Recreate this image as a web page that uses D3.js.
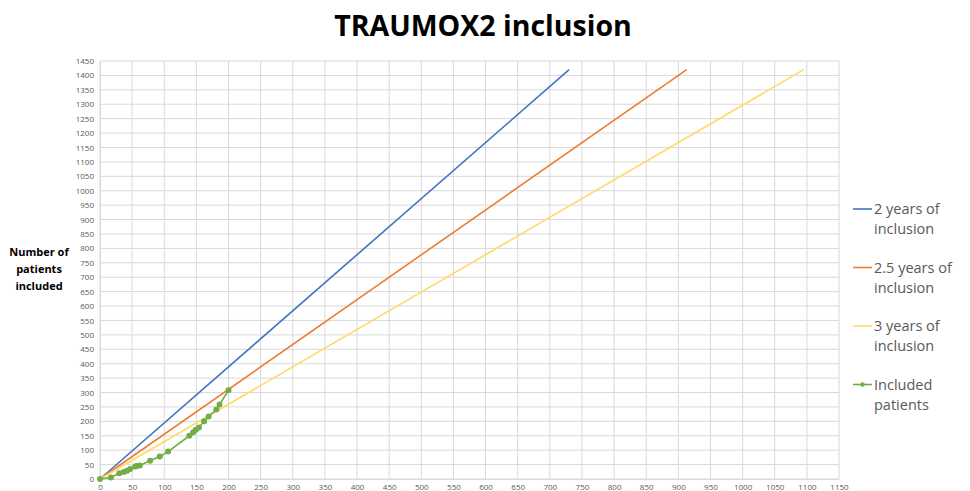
<!DOCTYPE html>
<html><head><meta charset="utf-8">
<script src="https://cdn.jsdelivr.net/npm/d3@7"></script>
<style>body{margin:0;background:#fff}svg{display:block}</style>
</head><body><svg id="c" width="970" height="491"></svg>
<script>
const title = "TRAUMOX2 inclusion";
const yLabel = ["Number of", "patients", "included"];
const xTicks = d3.range(0, 1151, 50);
const yTicks = d3.range(0, 1451, 50);
const targetPatients = 1420;
const planSeries = [
  {name: ["2 years of", "inclusion"], days: 730, color: "#4472C4"},
  {name: ["2.5 years of", "inclusion"], days: 913, color: "#ED7D31"},
  {name: ["3 years of", "inclusion"], days: 1095, color: "#FFD966"}
];
const includedName = ["Included", "patients"];
const includedColor = "#70AD47";
const includedDays = [0, 17, 30, 37, 42, 47, 55, 57, 62, 78, 93, 106, 139, 145, 149, 154, 162, 169, 181, 186, 200];
const includedCount = [0, 5, 20, 24, 29, 35, 43, 45, 47, 63, 78, 95, 150, 162, 171, 179, 200, 217, 241, 258, 308];

const svg = d3.select("#c");
const x = d3.scaleLinear().domain([0, 1150]).range([100, 839]);
const y = d3.scaleLinear().domain([0, 1450]).range([479, 61]);
const font = "Open Sans, Liberation Sans, sans-serif";

svg.append("text").attr("x", 483).attr("y", 36).attr("text-anchor", "middle")
  .attr("font-family", font).attr("font-weight", "bold").attr("font-size", 28.5)
  .attr("fill", "#000").text(title);

// grid
svg.append("g").selectAll("line").data(xTicks).join("line")
  .attr("x1", d => x(d)).attr("x2", d => x(d)).attr("y1", y(0)).attr("y2", y(1450))
  .attr("stroke", "#d9d9d9").attr("stroke-width", 1);
svg.append("g").selectAll("line").data(yTicks).join("line")
  .attr("x1", x(0)).attr("x2", x(1150)).attr("y1", d => y(d)).attr("y2", d => y(d))
  .attr("stroke", "#d9d9d9").attr("stroke-width", 1);

// axes
const fmt = d3.format("d");
const xAxis = svg.append("g").attr("transform", `translate(0,${y(0)})`)
  .call(d3.axisBottom(x).tickValues(xTicks).tickFormat(fmt).tickSize(0).tickPadding(5));
const yAxis = svg.append("g").attr("transform", `translate(${x(0)},0)`)
  .call(d3.axisLeft(y).tickValues(yTicks).tickFormat(fmt).tickSize(0).tickPadding(6));
[xAxis, yAxis].forEach(g => {
  g.select(".domain").attr("stroke", "#d9d9d9");
  g.selectAll("text").attr("font-family", font).attr("font-size", 8).attr("fill", "#595959");
});

// y label
const yl = svg.append("text").attr("text-anchor", "middle").attr("font-family", font)
  .attr("font-weight", "bold").attr("font-size", 11).attr("fill", "#000");
yLabel.forEach((t, i) => yl.append("tspan").attr("x", 39).attr("y", 256 + i * 17).text(t));

// plan lines
const line = d3.line().x(d => x(d[0])).y(d => y(d[1]));
planSeries.forEach(s => {
  svg.append("path").datum([[0, 0], [s.days, targetPatients]]).attr("d", line)
    .attr("fill", "none").attr("stroke", s.color).attr("stroke-width", 1.6);
});

// included
const inc = includedDays.map((d, i) => [d, includedCount[i]]);
svg.append("path").datum(inc).attr("d", line).attr("fill", "none")
  .attr("stroke", includedColor).attr("stroke-width", 1.6);
svg.append("g").selectAll("circle").data(inc).join("circle")
  .attr("cx", d => x(d[0])).attr("cy", d => y(d[1])).attr("r", 3).attr("fill", includedColor);

// legend
const legendItems = planSeries.map(s => ({name: s.name, color: s.color, marker: false}))
  .concat([{name: includedName, color: includedColor, marker: true}]);
legendItems.forEach((it, i) => {
  const ly = 209 + i * 58.5;
  svg.append("line").attr("x1", 853).attr("x2", 872).attr("y1", ly).attr("y2", ly)
    .attr("stroke", it.color).attr("stroke-width", 1.6);
  if (it.marker) svg.append("circle").attr("cx", 862.5).attr("cy", ly).attr("r", 2.2).attr("fill", it.color);
  const t = svg.append("text").attr("font-family", font).attr("font-size", 14.5).attr("fill", "#595959");
  it.name.forEach((n, j) => t.append("tspan").attr("x", 874).attr("y", ly + 5 + j * 20).text(n));
});
</script></body></html>
